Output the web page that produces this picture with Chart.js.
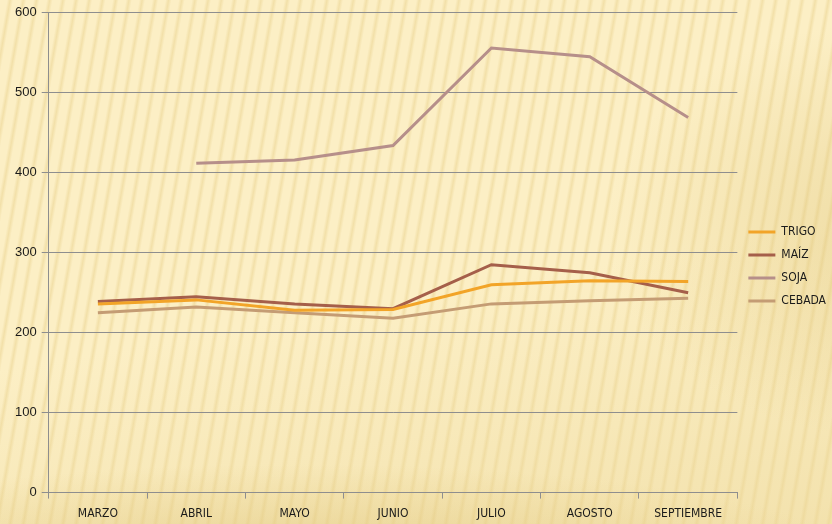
<!DOCTYPE html>
<html>
<head>
<meta charset="utf-8">
<script src="https://cdn.jsdelivr.net/npm/chart.js@4/dist/chart.umd.min.js"></script>
<style>
  html, body { margin: 0; padding: 0; }
  #wrap {
    position: relative; width: 832px; height: 524px; overflow: hidden;
    background:
      radial-gradient(ellipse 420px 300px at 900px 230px, rgba(222,196,120,0.45), rgba(222,196,120,0) 70%),
      radial-gradient(ellipse 700px 120px at 300px 560px, rgba(222,196,120,0.55), rgba(222,196,120,0) 80%),
      repeating-linear-gradient(100deg, rgba(236,214,150,0.0) 0px, rgba(236,214,150,0.0) 7px, rgba(236,214,150,0.6) 10px, rgba(236,214,150,0.0) 13px),
      linear-gradient(170deg, #fcefc5 0%, #fcefc5 55%, #f3e2ad 100%);
  }
  canvas { position: absolute; left: 0; top: 0; }
</style>
</head>
<body>
<div id="wrap"><canvas id="c" width="832" height="524"></canvas></div>
<script>
const months = ['MARZO', 'ABRIL', 'MAYO', 'JUNIO', 'JULIO', 'AGOSTO', 'SEPTIEMBRE'];
const trigo  = [236, 241, 228, 229, 260, 265, 264];
const maiz   = [239, 245, 236, 230, 285, 275, 250];
const soja   = [null, 412, 416, 434, 556, 545, 469];
const cebada = [225, 232, 225, 218, 236, 240, 243];
const yTicks = [0, 100, 200, 300, 400, 500, 600];

const C = {
  trigo: '#f2a428', maiz: '#a55f4a', soja: '#b68f8a', cebada: '#c49c74',
  grid: '#8e8e8e', text: '#1a1a1a',
  narrow: "'DejaVu Sans Condensed', 'Liberation Sans Narrow', 'Liberation Sans', sans-serif",
  sans: "'Liberation Sans', Arial, sans-serif"
};

function ds(label, data, color) {
  return { label, data, borderColor: color, backgroundColor: color, pointStyle: 'line',
    borderWidth: 3, pointRadius: 0, pointHoverRadius: 0, tension: 0, spanGaps: false };
}

new Chart(document.getElementById('c').getContext('2d'), {
  type: 'line',
  data: { labels: months, datasets: [
    ds('TRIGO', trigo, C.trigo),
    ds('MAÍZ', maiz, C.maiz),
    ds('SOJA', soja, C.soja),
    ds('CEBADA', cebada, C.cebada)
  ]},
  options: {
    responsive: false, animation: false,
    layout: { padding: { left: 10, top: 4, right: -4, bottom: -5 } },
    plugins: {
      tooltip: { enabled: false },
      legend: { position: 'right', align: 'center',
        labels: { usePointStyle: true, pointStyle: 'line', pointStyleWidth: 27, boxHeight: 12,
          padding: 11, color: C.text, font: { family: C.narrow, size: 12 } } }
    },
    scales: {
      x: { offset: true,
        border: { display: true, color: C.grid, width: 1 },
        grid: { display: true, offset: true, drawOnChartArea: false, drawTicks: true, tickLength: 6, color: C.grid },
        ticks: { color: C.text, padding: 8, maxRotation: 0, autoSkip: false,
          font: { family: C.narrow, size: 12 } } },
      y: { min: 0, max: 600,
        afterBuildTicks: s => { s.ticks = yTicks.map(v => ({ value: v })); },
        border: { display: true, color: C.grid, width: 1 },
        grid: { color: C.grid, lineWidth: 1, tickLength: 7 },
        ticks: { color: C.text, padding: 5, font: { family: C.sans, size: 13 } } }
    }
  }
});
</script>
</body>
</html>
